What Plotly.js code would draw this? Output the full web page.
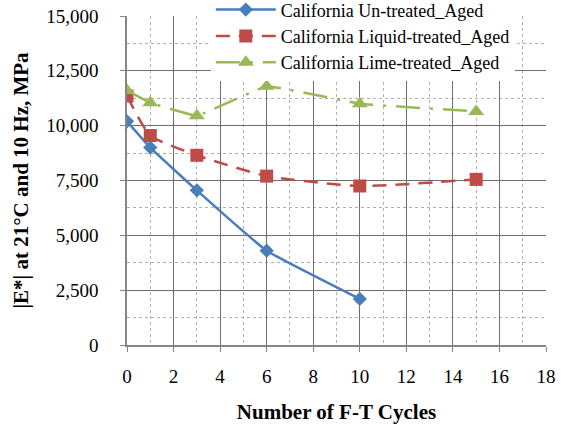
<!DOCTYPE html>
<html><head><meta charset="utf-8">
<script src="https://cdn.plot.ly/plotly-3.0.1.min.js"></script>
<style>body{margin:0;background:#fff}#c{width:561px;height:428px}</style>
</head><body><div id="c"></div>
<script>
const cycles_untreated = [0, 1, 3, 6, 10];
const untreated = [10200, 9000, 7050, 4300, 2100];
const cycles_liquid = [0, 1, 3, 6, 10, 15];
const liquid = [11350, 9550, 8650, 7700, 7250, 7550];
const cycles_lime = [0, 1, 3, 6, 10, 15];
const lime = [11600, 11050, 10450, 11800, 11000, 10650];
const names = ["California Un-treated_Aged", "California Liquid-treated_Aged", "California Lime-treated_Aged"];

const font = "Liberation Serif";
const traces = [
  {x: cycles_untreated, y: untreated, name: names[0], mode: "lines+markers",
   line: {color: "#4A7EBB", width: 2.5, shape: "spline", smoothing: 0.3},
   marker: {symbol: "diamond", size: 11, color: "#4A7EBB"}},
  {x: cycles_liquid, y: liquid, name: names[1], mode: "lines+markers",
   line: {color: "#BE4B48", width: 2.5, dash: "14px,9px", shape: "spline", smoothing: 0.5},
   marker: {symbol: "square", size: 13, color: "#BE4B48"}},
  {x: cycles_lime, y: lime, name: names[2], mode: "lines+markers",
   line: {color: "#98B954", width: 2.5, dash: "24px,10px,3px,10px", shape: "spline", smoothing: 0.2},
   marker: {symbol: "triangle-up", size: 14, color: "#98B954"}}
];
const layout = {
  width: 561, height: 428,
  margin: {l: 127, r: 15, t: 16, b: 83, autoexpand: false},
  paper_bgcolor: "#fff", plot_bgcolor: "#fff",
  font: {family: font, size: 19, color: "#000"},
  showlegend: true,
  legend: {x: 0.2, y: 1.075, xanchor: "left", yanchor: "top", bgcolor: "#fff",
    font: {family: font, size: 18}, tracegroupgap: 0, itemwidth: 60},
  xaxis: {range: [0, 18], dtick: 2, tick0: 0, showline: true, linecolor: "#868686", linewidth: 1.5,
    ticks: "outside", ticklen: 5, tickcolor: "#868686", showgrid: true, gridcolor: "#6e6e6e", gridwidth: 1,
    zeroline: false, minor: {dtick: 1, showgrid: true, gridcolor: "#b0b0b0", griddash: "dot", gridwidth: 1},
    tickfont: {family: font, size: 19}, ticklabelstandoff: 8,
    title: {text: "Number of F-T Cycles", font: {family: font, size: 21, weight: "bold"}, standoff: 19}},
  yaxis: {range: [0, 15000], dtick: 2500, tick0: 0, showline: true, linecolor: "#868686", linewidth: 1.5,
    ticks: "outside", ticklen: 5, tickcolor: "#868686", showgrid: true, gridcolor: "#6e6e6e", gridwidth: 1,
    zeroline: false, tickformat: ",d", minor: {dtick: 1250, showgrid: true, gridcolor: "#b0b0b0", griddash: "dot", gridwidth: 1},
    tickfont: {family: font, size: 19}, ticklabelstandoff: 18,
    title: {text: "|E*| at 21°C and 10 Hz, MPa", font: {family: font, size: 21, weight: "bold"}, standoff: 12}}
};
Plotly.newPlot("c", traces, layout, {displayModeBar: false});
</script></body></html>
